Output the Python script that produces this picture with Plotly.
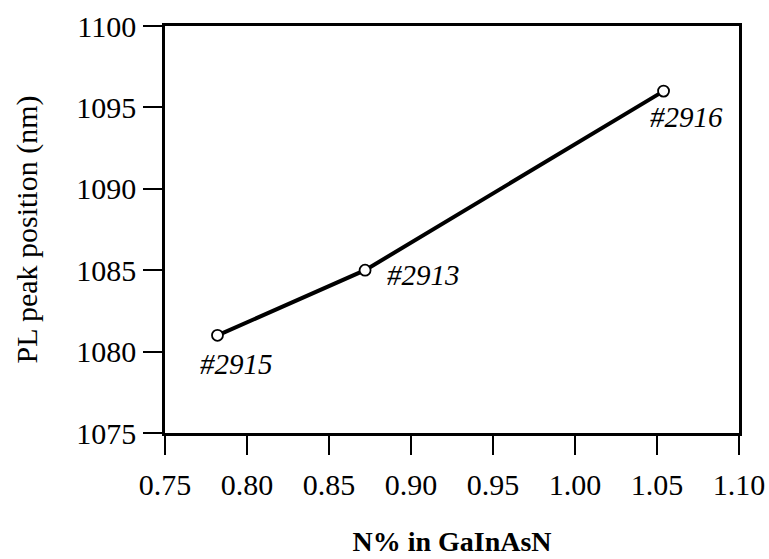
import plotly.graph_objects as go

# PL peak position vs. nitrogen content for three GaInAsN samples
n_percent = [0.782, 0.872, 1.054]
pl_peak_nm = [1081, 1085, 1096]
sample_ids = ["#2915", "#2913", "#2916"]

x_ticks = [0.75, 0.80, 0.85, 0.90, 0.95, 1.00, 1.05, 1.10]
y_ticks = [1075, 1080, 1085, 1090, 1095, 1100]

font_family = "Liberation Serif, Times New Roman, serif"

fig = go.Figure()
fig.add_trace(go.Scatter(
    x=n_percent, y=pl_peak_nm, mode="lines+markers",
    line=dict(color="black", width=4),
    marker=dict(symbol="circle", size=11, color="white",
                line=dict(color="black", width=1.8)),
    showlegend=False,
))

# sample labels next to each point (pixel offsets from the point)
label_offsets = [(19, -29), (58, -5), (23, -26)]
for x, y, s, (dx, dy) in zip(n_percent, pl_peak_nm, sample_ids, label_offsets):
    fig.add_annotation(x=x, y=y, text=f"<i>{s}</i>", showarrow=False,
                       xshift=dx, yshift=dy,
                       font=dict(family=font_family, size=29, color="black"))

axis_common = dict(
    showgrid=False, zeroline=False, showline=True, linecolor="black",
    linewidth=2.5, mirror=True, ticks="outside", ticklen=19, tickwidth=2,
    tickcolor="black", tickfont=dict(family=font_family, size=30, color="black"),
    automargin=False,
)

fig.update_xaxes(range=[0.75, 1.10], tickvals=x_ticks,
                 ticktext=[f"{v:.2f}" for v in x_ticks],
                 ticklabelstandoff=4,
                 title=dict(text="<b>N% in GaInAsN</b>", standoff=32,
                            font=dict(family=font_family, size=28, color="black")),
                 **axis_common)
fig.update_yaxes(range=[1075, 1100], tickvals=y_ticks,
                 ticktext=[str(v) for v in y_ticks],
                 ticklabelstandoff=1,
                 title=dict(text="PL peak position (nm)", standoff=30,
                            font=dict(family=font_family, size=30, color="black")),
                 **axis_common)

fig.update_layout(
    width=769, height=559,
    margin=dict(l=165, r=30, t=26, b=126),
    paper_bgcolor="white", plot_bgcolor="white",
)

fig.write_html("out.html")
